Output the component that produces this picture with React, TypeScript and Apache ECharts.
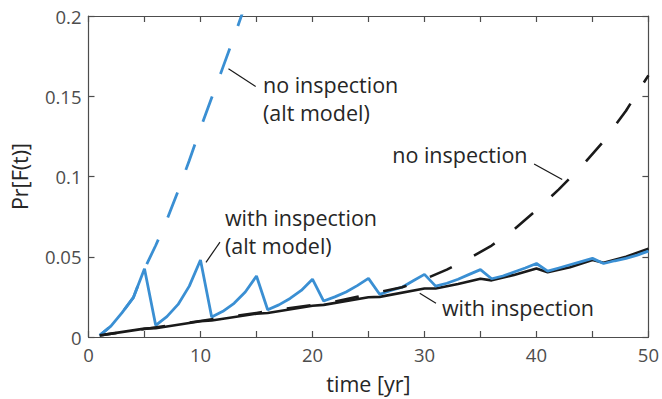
import React, { useEffect, useRef } from "react";
import * as echarts from "echarts";

// ---- data ----
const blueSolidYears = [
  1, 2, 3, 4, 5, 6, 7, 8, 9, 10, 11, 12, 13, 14, 15, 16, 17, 18, 19, 20, 21, 22, 23, 24, 25,
  26, 27, 28, 29, 30, 31, 32, 33, 34, 35, 36, 37, 38, 39, 40, 41, 42, 43, 44, 45, 46, 47, 48, 49, 50,
];
const withInspectionAlt = [
  0.001, 0.0068, 0.0152, 0.0245, 0.0425, 0.0073, 0.0127, 0.0203, 0.0317, 0.048,
  0.0125, 0.016, 0.021, 0.028, 0.038, 0.017, 0.02, 0.024, 0.029, 0.036,
  0.0224, 0.025, 0.028, 0.032, 0.0365, 0.0266, 0.029, 0.031, 0.035, 0.039,
  0.0317, 0.0335, 0.036, 0.039, 0.042, 0.0363, 0.038, 0.0405, 0.043, 0.0458,
  0.041, 0.043, 0.045, 0.047, 0.049, 0.0458, 0.0475, 0.049, 0.051, 0.0535,
];

const blueDashedYears = [1, 2, 3, 4, 5, 6, 7, 8, 9, 10, 11, 12, 13, 14];
const noInspectionAlt = [
  0.001, 0.0068, 0.0152, 0.0245, 0.0425, 0.057, 0.073, 0.091, 0.11, 0.13, 0.149, 0.168, 0.187, 0.207,
];

const blackSolidYears = [1, 5, 6, 10, 11, 15, 16, 20, 21, 25, 26, 30, 31, 33, 35, 36, 38, 40, 41, 43, 45, 46, 48, 50];
const withInspection = [
  0.001, 0.0052, 0.0055, 0.0098, 0.0103, 0.0145, 0.015, 0.0195, 0.02, 0.0248, 0.025, 0.0302,
  0.0302, 0.033, 0.0363, 0.0353, 0.0387, 0.0427, 0.0404, 0.0435, 0.048, 0.0462, 0.05, 0.055,
];

const blackDashedYears = [1, 5, 10, 15, 20, 22, 24, 26, 28, 30, 32, 34, 36, 38, 40, 42, 44, 46, 48, 50];
const noInspection = [
  0.001, 0.005, 0.01, 0.015, 0.02, 0.022, 0.025, 0.028, 0.031, 0.036, 0.042, 0.049, 0.057,
  0.067, 0.079, 0.092, 0.106, 0.122, 0.141, 0.163,
];

const xTicks = [0, 10, 20, 30, 40, 50];
const yTickLabels = ["0", "0.05", "0.1", "0.15", "0.2"];

// annotations: text lines, text anchor (data coords), leader line (data coords)
const annotations = [
  { lines: ["no inspection", "(alt model)"], at: [15.67, 0.152], from: [12.5, 0.1671], to: [14.93, 0.1561] },
  { lines: ["no inspection"], at: [27.21, 0.1085], from: [39.79, 0.1078], to: [42.3, 0.0981] },
  { lines: ["with inspection", "(alt model)"], at: [12.27, 0.069], from: [10.49, 0.0465], to: [11.74, 0.0591] },
  { lines: ["with inspection"], at: [31.65, 0.0129], from: [29.58, 0.0272], to: [31.03, 0.021] },
];

const FONT = "'Open Sans', 'Noto Sans', sans-serif";
const AXIS_COLOR = "#4d4d4d";
const BLUE = "#3a8fd3";
const BLACK = "#1a1a1a";

const zip = (xs: number[], ys: number[]) => xs.map((x, i) => [x, ys[i]]);

export default function App() {
  const ref = useRef<HTMLDivElement>(null);
  useEffect(() => {
    document.body.style.margin = "0";
    const chart = echarts.init(ref.current!, undefined, { renderer: "svg" });
    const axisCommon = {
      axisLine: { show: true, onZero: false, lineStyle: { color: AXIS_COLOR, width: 1.2 } },
      axisTick: { show: true, inside: true, length: 6, lineStyle: { color: AXIS_COLOR, width: 1.2 } },
      splitLine: { show: false },
    };
    const xBase = { type: "value" as const, min: 0, max: 50, interval: 5, ...axisCommon };
    const yBase = { type: "value" as const, min: 0, max: 0.2, interval: 0.05, ...axisCommon };
    chart.setOption({
      animation: false,
      backgroundColor: "#ffffff",
      grid: { left: 88.5, right: 10, top: 16, bottom: 61.3, containLabel: false },
      xAxis: [
        {
          ...xBase,
          position: "bottom",
          name: "time [yr]",
          nameLocation: "middle",
          nameGap: 35,
          nameTextStyle: { fontFamily: FONT, fontSize: 21.5, color: "#262626" },
          axisLabel: {
            margin: 8,
            fontFamily: FONT,
            fontSize: 18.5,
            color: AXIS_COLOR,
            formatter: (v: number) => (xTicks.includes(v) ? String(v) : ""),
          },
        },
        { ...xBase, position: "top", axisLabel: { show: false } },
      ],
      yAxis: [
        {
          ...yBase,
          position: "left",
          name: "Pr[F(t)]",
          nameLocation: "middle",
          nameGap: 58,
          nameTextStyle: { fontFamily: FONT, fontSize: 21.5, color: "#262626" },
          axisLabel: {
            margin: 7,
            fontFamily: FONT,
            fontSize: 18.5,
            color: AXIS_COLOR,
            formatter: (v: number) => yTickLabels[Math.round(v / 0.05)] ?? "",
          },
        },
        { ...yBase, position: "right", axisLabel: { show: false } },
      ],
      series: [
        {
          name: "with inspection",
          type: "line",
          data: zip(blackSolidYears, withInspection),
          showSymbol: false,
          symbol: "none",
          lineStyle: { color: BLACK, width: 2.6 },
          clip: true,
        },
        {
          name: "with inspection (alt model)",
          type: "line",
          data: zip(blueSolidYears, withInspectionAlt),
          showSymbol: false,
          symbol: "none",
          lineStyle: { color: BLUE, width: 2.8 },
          clip: true,
        },
        {
          name: "no inspection (alt model)",
          type: "line",
          data: zip(blueDashedYears, noInspectionAlt),
          showSymbol: false,
          symbol: "none",
          lineStyle: { color: BLUE, width: 2.8, type: [27, 24], dashOffset: 15 },
          clip: true,
        },
        {
          name: "no inspection",
          type: "line",
          data: zip(blackDashedYears, noInspection),
          showSymbol: false,
          symbol: "none",
          lineStyle: { color: BLACK, width: 2.6, type: [24, 25], dashOffset: 7.4 },
          clip: true,
        },
      ],
    });

    const px = (p: number[]) => chart.convertToPixel({ gridIndex: 0 }, p) as number[];
    const FS = 21.5;
    const LINE_GAP = 27.5;
    const graphic: any[] = [];
    annotations.forEach((a) => {
      const base = px(a.at);
      a.lines.forEach((t, i) => {
        graphic.push({
          type: "text",
          x: base[0] - 1,
          y: base[1] + i * LINE_GAP - 0.39 * FS,
          style: {
            text: t,
            fontFamily: FONT,
            fontSize: FS,
            fill: "#262626",
            align: "left",
            verticalAlign: "middle",
          },
        });
      });
      const p1 = px(a.from);
      const p2 = px(a.to);
      graphic.push({
        type: "line",
        shape: { x1: p1[0], y1: p1[1], x2: p2[0], y2: p2[1] },
        style: { stroke: BLACK, lineWidth: 1.2 },
      });
    });
    chart.setOption({ graphic });

    return () => chart.dispose();
  }, []);
  return <div ref={ref} style={{ width: 662, height: 399 }} />;
}
